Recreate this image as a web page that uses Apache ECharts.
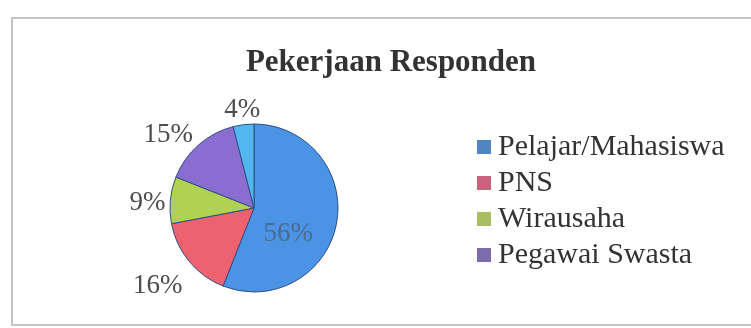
<!DOCTYPE html>
<html><head><meta charset="utf-8">
<script src="https://cdn.jsdelivr.net/npm/echarts@6/dist/echarts.min.js"></script>
<style>html,body{margin:0;padding:0;background:#fff}#c{width:751px;height:328px}</style>
</head><body><div id="c"></div>
<script>
var categories = ['Pelajar/Mahasiswa', 'PNS', 'Wirausaha', 'Pegawai Swasta', 'Lainnya'];
var values = [56, 16, 9, 15, 4];
var sliceColors = ['#4b93e4', '#ee6270', '#b0d252', '#8b6dd2', '#52b6f0'];
var legendColors = ['#5085c2', '#c8627e', '#a9bd62', '#7c6cac'];
var legendNames = categories.slice(0, 4);
// label nudges (dx, dy) to mimic the spreadsheet's label placement
var labelNudge = [[-10, 17], [6, 18], [5, 4], [8, -9], [23, -5]];

var chart = echarts.init(document.getElementById('c'));
var serif = '"Liberation Serif", "Times New Roman", serif';
var data = categories.map(function (n, i) {
  var d = { name: n, value: values[i], itemStyle: { color: sliceColors[i] } };
  if (i === 0) d.label = { position: 'inside', color: '#4a6a90' };
  return d;
});
chart.setOption({
  animation: false,
  graphic: [{
    type: 'rect', shape: { x: 12, y: 18, width: 760, height: 307 },
    style: { fill: 'none', stroke: '#c4c4c4', lineWidth: 2 }, silent: true
  }],
  title: {
    text: 'Pekerjaan Responden', left: 386, top: 42, textAlign: 'center',
    textStyle: { fontFamily: serif, fontSize: 31, fontWeight: 'bold', color: '#333' }
  },
  legend: {
    orient: 'vertical', left: 472, top: 127,
    itemWidth: 14, itemHeight: 14, itemGap: 6,
    icon: 'rect',
    itemStyle: { borderWidth: 0 },
    data: legendNames.map(function (n, i) { return { name: n, itemStyle: { color: legendColors[i], borderWidth: 0 } }; }),
    textStyle: { fontFamily: serif, fontSize: 30, color: '#333', padding: [0, 0, 0, 2] }
  },
  series: [{
    type: 'pie', center: [254, 208], radius: 84, startAngle: 90, clockwise: true,
    data: data,
    itemStyle: { borderColor: '#2d4e80', borderWidth: 1 },
    label: {
      show: true, position: 'outside', formatter: '{d}%',
      fontFamily: serif, fontSize: 27, color: '#4d4d4d'
    },
    labelLine: { show: false, length: 10, length2: 0 },
    labelLayout: function (p) {
      var n = labelNudge[p.dataIndex];
      return { dx: n[0], dy: n[1] };
    }
  }]
});
</script></body></html>
